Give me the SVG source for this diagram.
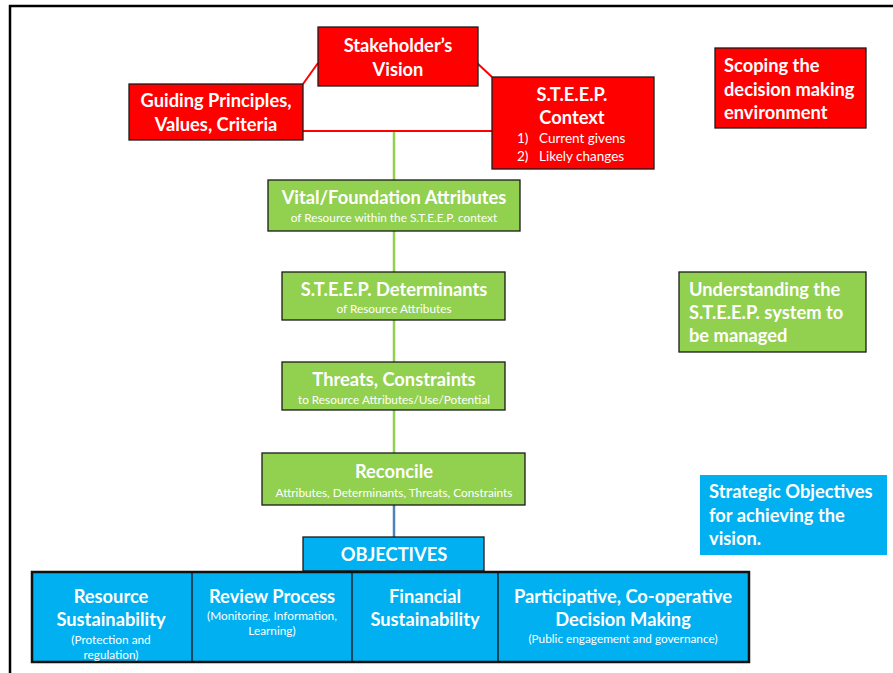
<svg xmlns="http://www.w3.org/2000/svg" width="893" height="673" viewBox="0 0 893 673">
  <defs>
    <style>
      .red { fill: #FF0000; stroke: #1a1a1a; stroke-width: 1.3; }
      .green { fill: #92D050; stroke: #1a1a1a; stroke-width: 1.3; }
      .blue { fill: #00B0F0; stroke: #1a1a1a; stroke-width: 1.3; }
      .row { fill: #00B0F0; stroke: #111; stroke-width: 2.5; }
      text { font-family: Lato, "Open Sans", "Liberation Sans", sans-serif; fill: #ffffff; }
      .h { font-size: 18.3px; font-weight: bold; }
      .s { font-size: 11.8px; }
      .m { font-size: 13.5px; }
      .c { text-anchor: middle; }
      .frame { fill: none; stroke: #000; stroke-width: 2.5; }
    </style>
  </defs>

  <rect width="893" height="673" fill="#ffffff"/>
  <!-- page frame -->
  <polyline class="frame" points="10,673 10,6 893,6"/>

  <!-- connectors -->
  <g id="connectors" fill="none" stroke-width="2">
    <line x1="303" y1="84" x2="318" y2="63" stroke="#FF0000"/>
    <line x1="477" y1="63" x2="492" y2="77" stroke="#FF0000"/>
    <line x1="302" y1="131" x2="492" y2="131" stroke="#FF0000"/>
    <line x1="394" y1="132" x2="394" y2="453" stroke="#92D050" stroke-width="2.5"/>
    <line x1="394" y1="505" x2="394" y2="537" stroke="#4F81BD" stroke-width="2.5"/>
  </g>

  <!-- scoping: red nodes -->
  <g id="stakeholders-vision">
    <rect class="red" x="318" y="27" width="160" height="59"/>
    <text class="h c" x="398" y="52">Stakeholder’s</text>
    <text class="h c" x="398" y="76">Vision</text>
  </g>
  <g id="guiding-principles">
    <rect class="red" x="129" y="84" width="174" height="56"/>
    <text class="h c" x="216" y="107">Guiding Principles,</text>
    <text class="h c" x="216" y="131">Values, Criteria</text>
  </g>
  <g id="steep-context">
    <rect class="red" x="492" y="77" width="162" height="92"/>
    <text class="h c" x="572" y="101">S.T.E.E.P.</text>
    <text class="h c" x="572" y="124">Context</text>
    <text class="m" x="517" y="143">1)</text>
    <text class="m" x="539" y="143">Current givens</text>
    <text class="m" x="517" y="161">2)</text>
    <text class="m" x="539" y="161">Likely changes</text>
  </g>
  <g id="scoping-label">
    <rect class="red" x="715" y="48" width="151" height="80"/>
    <text class="h" x="724" y="72">Scoping  the</text>
    <text class="h" x="724" y="96">decision making</text>
    <text class="h" x="724" y="119">environment</text>
  </g>

  <!-- understanding: green nodes -->
  <g id="vital-attributes">
    <rect class="green" x="268" y="180" width="252" height="51"/>
    <text class="h c" x="394" y="204">Vital/Foundation Attributes</text>
    <text class="s c" x="394" y="222" font-size="12.6">of Resource within the S.T.E.E.P. context</text>
  </g>
  <g id="steep-determinants">
    <rect class="green" x="282" y="272" width="223" height="48"/>
    <text class="h c" x="394" y="296">S.T.E.E.P.  Determinants</text>
    <text class="s c" x="394" y="313">of Resource Attributes</text>
  </g>
  <g id="threats-constraints">
    <rect class="green" x="282" y="362" width="223" height="48"/>
    <text class="h c" x="394" y="386">Threats, Constraints</text>
    <text class="s c" x="394" y="404">to Resource Attributes/Use/Potential</text>
  </g>
  <g id="reconcile">
    <rect class="green" x="262" y="453" width="263" height="52"/>
    <text class="h c" x="394" y="478">Reconcile</text>
    <text class="s c" x="394" y="497">Attributes, Determinants, Threats, Constraints</text>
  </g>
  <g id="understanding-label">
    <rect class="green" x="679" y="272" width="187" height="80"/>
    <text class="h" x="689" y="296">Understanding the</text>
    <text class="h" x="689" y="319">S.T.E.E.P. system to</text>
    <text class="h" x="689" y="342">be managed</text>
  </g>

  <!-- objectives: blue nodes -->
  <g id="objectives">
    <rect class="blue" x="303" y="537" width="181" height="34" stroke-width="2"/>
    <text class="h c" x="394" y="561">OBJECTIVES</text>
  </g>
  <g id="objective-row">
    <rect class="row" x="32" y="572" width="717" height="90"/>
    <line x1="192" y1="572" x2="192" y2="662" stroke="#111" stroke-width="1.3"/>
    <line x1="352" y1="572" x2="352" y2="662" stroke="#111" stroke-width="1.3"/>
    <line x1="498" y1="572" x2="498" y2="662" stroke="#111" stroke-width="1.3"/>
  </g>
  <g id="resource-sustainability">
    <text class="h c" x="111" y="603">Resource</text>
    <text class="h c" x="111" y="626">Sustainability</text>
    <text class="s c" x="111" y="644">(Protection and</text>
    <text class="s c" x="111" y="659">regulation)</text>
  </g>
  <g id="review-process">
    <text class="h c" x="272" y="603">Review Process</text>
    <text class="s c" x="272" y="620">(Monitoring, Information,</text>
    <text class="s c" x="272" y="635">Learning)</text>
  </g>
  <g id="financial-sustainability">
    <text class="h c" x="425" y="603">Financial</text>
    <text class="h c" x="425" y="626">Sustainability</text>
  </g>
  <g id="participative-decision-making">
    <text class="h c" x="623" y="603">Participative, Co-operative</text>
    <text class="h c" x="623" y="626">Decision Making</text>
    <text class="s c" x="623" y="643">(Public engagement and governance)</text>
  </g>
  <g id="strategic-label">
    <rect x="700" y="475" width="187" height="80" fill="#00B0F0"/>
    <text class="h" x="709" y="498">Strategic Objectives</text>
    <text class="h" x="709" y="522">for achieving the</text>
    <text class="h" x="709" y="545">vision.</text>
  </g>
</svg>
